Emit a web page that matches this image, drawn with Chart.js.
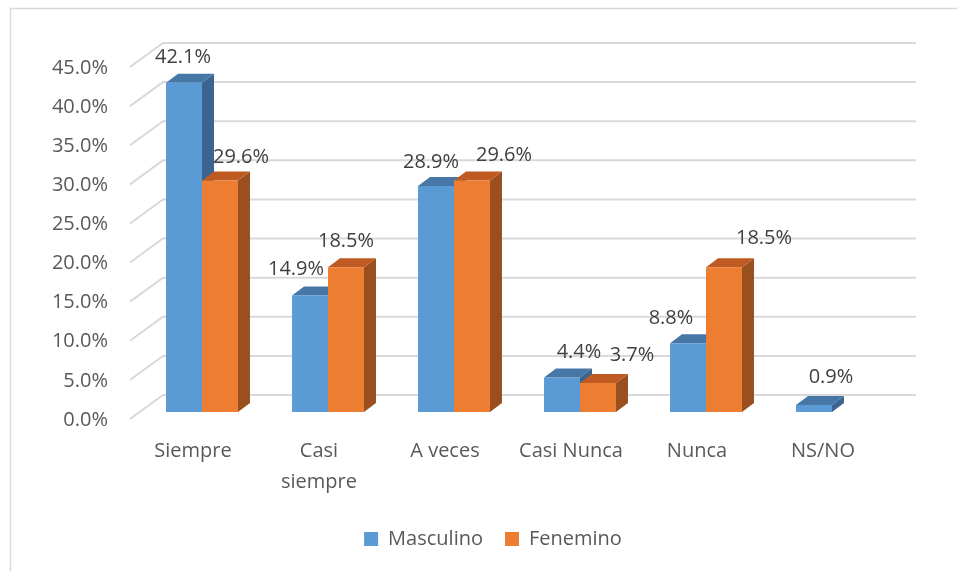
<!DOCTYPE html>
<html>
<head>
<meta charset="utf-8">
<script src="https://cdn.jsdelivr.net/npm/chart.js@4.4.1/dist/chart.umd.min.js"></script>
<style>
    body { margin: 0; background: #fff; }
    #chart { display: block; }
</style>
</head>
<body>
<canvas id="chart" width="957" height="571"></canvas>
<script>
const categories = ["Siempre", ["Casi", "siempre"], "A veces", "Casi Nunca", "Nunca", "NS/NO"];
const masculino = [42.1, 14.9, 28.9, 4.4, 8.8, 0.9];
const fenemino = [29.6, 18.5, 29.6, 3.7, 18.5, null];
const yTicks = [0, 5, 10, 15, 20, 25, 30, 35, 40, 45];

const FONT = "'Open Sans', sans-serif";
const TEXT = "#595959";
const LABEL = "#404040";
const GRID = "#d9d9d9";
const DEPTH = { dx: 12, dy: -9 };
const faces = [
    { top: "#4677a6", side: "#3a6590" },
    { top: "#bf5b22", side: "#9a4f1e" }
];
// where Excel put each label, relative to the bar
const nudge = [
    [[-1, -25], [-14, -26], [-5, -24], [17, -25], [-17, -25], [17, -28]],
    [[21, -23], [0, -26], [32, -25], [34, -28], [40, -29], [0, 0]]
];

function poly(ctx, pts, color) {
    ctx.beginPath();
    ctx.moveTo(pts[0][0], pts[0][1]);
    for (let i = 1; i < pts.length; i++) ctx.lineTo(pts[i][0], pts[i][1]);
    ctx.closePath();
    ctx.fillStyle = color;
    ctx.fill();
}

const excel3d = {
    id: "excel3d",
    beforeDraw(chart) {
        let ctx = chart.ctx;
        ctx.save();
        ctx.strokeStyle = GRID;
        ctx.lineWidth = 1.5;
        ctx.beginPath();
        ctx.moveTo(10.5, chart.height);
        ctx.lineTo(10.5, 8.5);
        ctx.lineTo(chart.width, 8.5);
        ctx.stroke();
        ctx.restore();
    },
    beforeDatasetsDraw(chart) {
        let ctx = chart.ctx;
        let y = chart.scales.y;
        let a = chart.chartArea;
        ctx.save();
        // back wall gridlines with the floor diagonals
        ctx.strokeStyle = GRID;
        ctx.lineWidth = 2;
        yTicks.forEach(v => {
            let py = y.getPixelForValue(v);
            ctx.beginPath();
            ctx.moveTo(a.left - 9, py + 7);
            ctx.lineTo(a.left + 24, py - 17);
            ctx.lineTo(a.right + 21, py - 17);
            ctx.stroke();
        });
        // y labels on the front plane
        ctx.fillStyle = TEXT;
        ctx.font = "20px " + FONT;
        ctx.textAlign = "right";
        ctx.textBaseline = "middle";
        yTicks.forEach(v => {
            ctx.fillText(v.toFixed(1) + "%", a.left - 31, y.getPixelForValue(v) + 8);
        });
        // category labels
        ctx.textAlign = "center";
        categories.forEach((c, i) => {
            let px = chart.scales.x.getPixelForValue(i) - 9;
            let lines = Array.isArray(c) ? c : [c];
            lines.forEach((l, k) => ctx.fillText(l, px, a.bottom + 39 + k * 31));
        });
        // sides and tops of the bars
        chart.data.datasets.forEach((ds, d) => {
            chart.getDatasetMeta(d).data.forEach((bar, i) => {
                if (ds.data[i] == null) return;
                let p = bar.getProps(["x", "y", "base", "width"], true);
                let l = p.x - p.width / 2, r = p.x + p.width / 2;
                poly(ctx, [[r, p.y], [r + DEPTH.dx, p.y + DEPTH.dy], [r + DEPTH.dx, p.base + DEPTH.dy], [r, p.base]], faces[d].side);
                poly(ctx, [[l, p.y], [l + DEPTH.dx, p.y + DEPTH.dy], [r + DEPTH.dx, p.y + DEPTH.dy], [r, p.y]], faces[d].top);
            });
        });
        ctx.restore();
    },
    afterDatasetsDraw(chart) {
        let ctx = chart.ctx;
        ctx.save();
        ctx.fillStyle = LABEL;
        ctx.font = "20px " + FONT;
        ctx.textAlign = "center";
        ctx.textBaseline = "middle";
        chart.data.datasets.forEach((ds, d) => {
            chart.getDatasetMeta(d).data.forEach((bar, i) => {
                if (ds.data[i] == null) return;
                let p = bar.getProps(["x", "y"], true);
                ctx.fillText(ds.data[i].toFixed(1) + "%", p.x + nudge[d][i][0], p.y + nudge[d][i][1]);
            });
        });
        ctx.restore();
    }
};

new Chart(document.getElementById("chart"), {
    type: "bar",
    data: {
        labels: categories,
        datasets: [
            { label: "Masculino", data: masculino, backgroundColor: "#5b9bd5", borderWidth: 0 },
            { label: "Fenemino", data: fenemino, backgroundColor: "#ed7d31", borderWidth: 0 }
        ]
    },
    options: {
        responsive: false,
        animation: false,
        layout: { padding: { left: 91, right: 62, top: 60, bottom: 12 } },
        datasets: { bar: { categoryPercentage: 0.571, barPercentage: 1 } },
        scales: {
            x: {
                grid: { display: false },
                border: { display: false },
                ticks: { display: false },
                afterFit(s) { s.height = 95; }
            },
            y: {
                min: 0,
                max: 45,
                grid: { display: false },
                border: { display: false },
                ticks: { display: false, stepSize: 5 },
                afterFit(s) { s.width = 48; }
            }
        },
        plugins: {
            tooltip: { enabled: false },
            legend: {
                position: "bottom",
                labels: {
                    font: { family: FONT, size: 20 },
                    color: TEXT,
                    boxWidth: 14,
                    boxHeight: 14,
                    padding: 22
                }
            }
        }
    },
    plugins: [excel3d]
});
</script>
</body>
</html>
